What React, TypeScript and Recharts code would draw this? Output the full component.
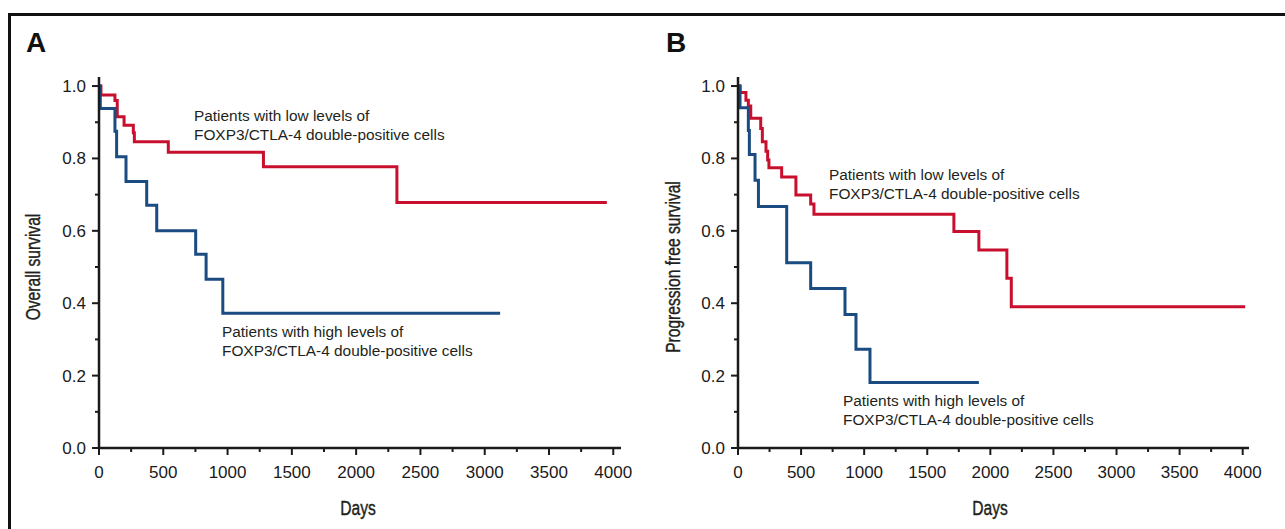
import { Line, LineChart, XAxis, YAxis } from "recharts";

const ink = "#1a1a1a";
const red = "#C8102E";
const blue = "#1A4C82";
const sans = "'Liberation Sans', Arial, sans-serif";

// days on the x axis, minor ticks every 250
const dayTicks = [0, 250, 500, 750, 1000, 1250, 1500, 1750, 2000, 2250, 2500, 2750, 3000, 3250, 3500, 3750, 4000];
const survTicks = [0, 0.1, 0.2, 0.3, 0.4, 0.5, 0.6, 0.7, 0.8, 0.9, 1.0];

// A: overall survival [day, fraction]
const osLow = [
  [0, 1], [15, 0.975], [124, 0.96], [142, 0.915], [195, 0.892], [267, 0.871], [275, 0.846],
  [539, 0.817], [1279, 0.777], [2317, 0.678], [3950, 0.678],
];
const osHigh = [
  [0, 1], [10, 0.938], [124, 0.875], [137, 0.805], [210, 0.736], [371, 0.671], [449, 0.6],
  [752, 0.535], [833, 0.466], [963, 0.372], [3120, 0.372],
];

// B: progression free survival
const pfsLow = [
  [0, 1], [16, 0.982], [63, 0.961], [82, 0.945], [101, 0.911], [180, 0.883], [193, 0.846],
  [222, 0.82], [235, 0.796], [245, 0.774], [346, 0.749], [459, 0.699], [576, 0.674],
  [602, 0.646], [1711, 0.598], [1909, 0.547], [2131, 0.469], [2166, 0.39], [4020, 0.39],
];
const pfsHigh = [
  [0, 1], [16, 0.94], [82, 0.877], [90, 0.811], [135, 0.74], [162, 0.667], [386, 0.512],
  [576, 0.441], [848, 0.369], [935, 0.273], [1046, 0.181], [1909, 0.181],
];

const rows = (pts: number[][]) => pts.map(([t, s]) => ({ t, s }));

function DayTick({ x, y, payload }: any) {
  const major = payload.value % 500 === 0;
  return (
    <g>
      <line x1={x} x2={x} y1={y} y2={y + (major ? 7 : 4)} stroke={ink} strokeWidth={2} />
      {major && (
        <text x={x} y={y + 30} textAnchor="middle" fontFamily={sans} fontSize={17} fill={ink}>
          {payload.value}
        </text>
      )}
    </g>
  );
}

function SurvTick({ x, y, payload }: any) {
  const major = Math.round(payload.value * 10) % 2 === 0;
  return (
    <g>
      <line x1={x} x2={x - (major ? 7 : 4)} y1={y} y2={y} stroke={ink} strokeWidth={2} />
      {major && (
        <text x={x - 13} y={y + 6} textAnchor="end" fontFamily={sans} fontSize={17} fill={ink}>
          {payload.value.toFixed(1)}
        </text>
      )}
    </g>
  );
}

function Panel({ low, high, width, left, right, maxDay }: any) {
  return (
    <LineChart width={width} height={529} margin={{ top: 77, right, bottom: 51, left }}>
      <XAxis
        dataKey="t" type="number" domain={[0, maxDay]} ticks={dayTicks} interval={0}
        height={30} tickSize={0} tickMargin={0} tickLine={false}
        axisLine={{ stroke: ink, strokeWidth: 2.5 }} tick={<DayTick />}
      />
      <YAxis
        type="number" domain={[0, 1.025]} ticks={survTicks} interval={0}
        width={50} tickSize={0} tickMargin={0} tickLine={false}
        axisLine={{ stroke: ink, strokeWidth: 2.5 }} tick={<SurvTick />}
      />
      <Line data={rows(low)} dataKey="s" type="stepAfter" stroke={red} strokeWidth={3} dot={false} isAnimationActive={false} />
      <Line data={rows(high)} dataKey="s" type="stepAfter" stroke={blue} strokeWidth={3} dot={false} isAnimationActive={false} />
    </LineChart>
  );
}

const note = (left: number, top: number, level: string) => (
  <div style={{ position: "absolute", left, top, fontFamily: sans, fontSize: 15.4, lineHeight: "18.5px", color: "#231f20", whiteSpace: "nowrap" }}>
    Patients with {level} levels of
    <br />
    FOXP3/CTLA-4 double-positive cells
  </div>
);

const letter = (left: number, text: string) => (
  <div style={{ position: "absolute", left, top: 29, fontFamily: sans, fontWeight: 700, fontSize: 28, lineHeight: "28px", color: "#111" }}>
    {text}
  </div>
);

// condensed look: squeeze the text along its own direction
const title = (cx: number, cy: number, text: string, rotate: boolean) => (
  <div
    style={{
      position: "absolute", left: cx, top: cy, whiteSpace: "nowrap",
      transform: `translate(-50%, -50%)${rotate ? " rotate(-90deg)" : ""} scaleX(0.8)`,
      fontFamily: sans, fontSize: 19.5, color: "#231f20", WebkitTextStroke: "0.4px #231f20",
    }}
  >
    {text}
  </div>
);

export default function App() {
  return (
    <div style={{ position: "relative", width: 1285, height: 529, overflow: "hidden", background: "#fff" }}>
      <style>{"body{margin:0;overflow:hidden}"}</style>
      <div style={{ position: "absolute", left: 8, top: 13, width: 1400, height: 700, borderLeft: "3px solid #111", borderTop: "3px solid #111" }} />
      <div style={{ position: "absolute", left: 0, top: 0 }}>
        <Panel low={osLow} high={osHigh} width={660} left={49} right={39} maxDay={4060} />
      </div>
      <div style={{ position: "absolute", left: 640, top: 0 }}>
        <Panel low={pfsLow} high={pfsHigh} width={645} left={48} right={36} maxDay={4050} />
      </div>
      {letter(26, "A")}
      {letter(666, "B")}
      {note(194, 107, "low")}
      {note(222, 323, "high")}
      {note(829, 166, "low")}
      {note(843, 392, "high")}
      {title(33, 267, "Overall survival", true)}
      {title(673, 267, "Progression free survival", true)}
      {title(358, 508, "Days", false)}
      {title(990, 508, "Days", false)}
    </div>
  );
}
